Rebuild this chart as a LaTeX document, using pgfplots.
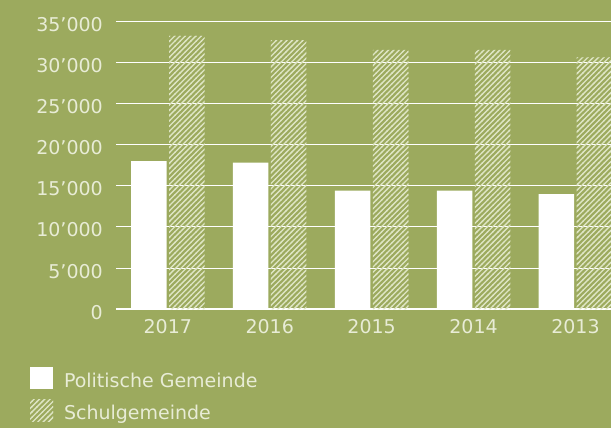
\documentclass[border=0pt]{standalone}
\usepackage{fontspec}
\setmainfont{DejaVu Sans}
\usepackage{pgfplots}
\pgfplotsset{compat=1.18}
\usetikzlibrary{patterns}

\definecolor{bg}{RGB}{156,170,94}
\definecolor{txt}{RGB}{232,236,214}
\definecolor{hatchc}{RGB}{222,229,196}

% feine Schraffur (////)
\pgfdeclarepatternformonly{fine ne}{\pgfqpoint{-1pt}{-1pt}}{\pgfqpoint{6.3pt}{6.3pt}}{\pgfqpoint{5.3pt}{5.3pt}}{%
  \pgfsetlinewidth{1.3pt}
  \pgfpathmoveto{\pgfqpoint{-0.5pt}{-0.5pt}}
  \pgfpathlineto{\pgfqpoint{5.8pt}{5.8pt}}
  \pgfusepath{stroke}}

\begin{document}
\begin{tikzpicture}
\fill[bg] (0,0) rectangle (611pt,428pt);
\useasboundingbox (0,0) rectangle (611pt,428pt);
\clip (0,0) rectangle (611pt,428pt);
\begin{axis}[
    at={(116pt,118.7pt)}, anchor=south west,
    scale only axis, width=495pt, height=288.2pt,
    xmin=-0.508, xmax=4.349, ymin=0, ymax=35000,
    ybar=2.5pt, bar width=35.5pt,
    axis line style={draw=none},
    major tick length=0pt,
    scaled y ticks=false,
    xtick={0,1,2,3,4},
    xticklabels={2017,2016,2015,2014,2013},
    ytick={5000,10000,15000,20000,25000,30000,35000},
    yticklabels={5’000,10’000,15’000,20’000,25’000,30’000,35’000},
    extra y ticks={0},
    extra y tick labels={0},
    extra y tick style={grid style={draw=white, line width=2pt}},
    ymajorgrids, grid style={draw=white, line width=1pt},
    tick label style={font=\fontsize{19}{22}\selectfont, text=txt},
    yticklabel style={anchor=east, inner sep=0pt, xshift=-13pt, yshift=-3pt},
    xticklabel style={anchor=north, inner sep=0pt, yshift=-10pt},
    legend style={at={(axis description cs:-0.1737,-0.2012)}, anchor=north west,
        draw=none, fill=none, inner sep=0pt, outer sep=0pt, row sep=10.1pt,
        font=\fontsize{19}{22}\selectfont, text=txt,
        nodes={inner sep=0pt},
        /tikz/every odd column/.append style={column sep=11pt}},
    legend cell align=left,
    every axis plot post/.append style={
        legend image code/.code={\path[##1,draw=none] (0pt,-8pt) rectangle (23pt,14pt);}},
]
% Politische Gemeinde
\addplot[fill=white, draw=none] coordinates {(0,18000) (1,17800) (2,14400) (3,14400) (4,14000)};
% Schulgemeinde
\addplot[pattern=fine ne, pattern color=hatchc, draw=none] coordinates {(0,33200) (1,32700) (2,31500) (3,31500) (4,30600)};
\legend{Politische Gemeinde, Schulgemeinde}
\end{axis}
\end{tikzpicture}
\end{document}
